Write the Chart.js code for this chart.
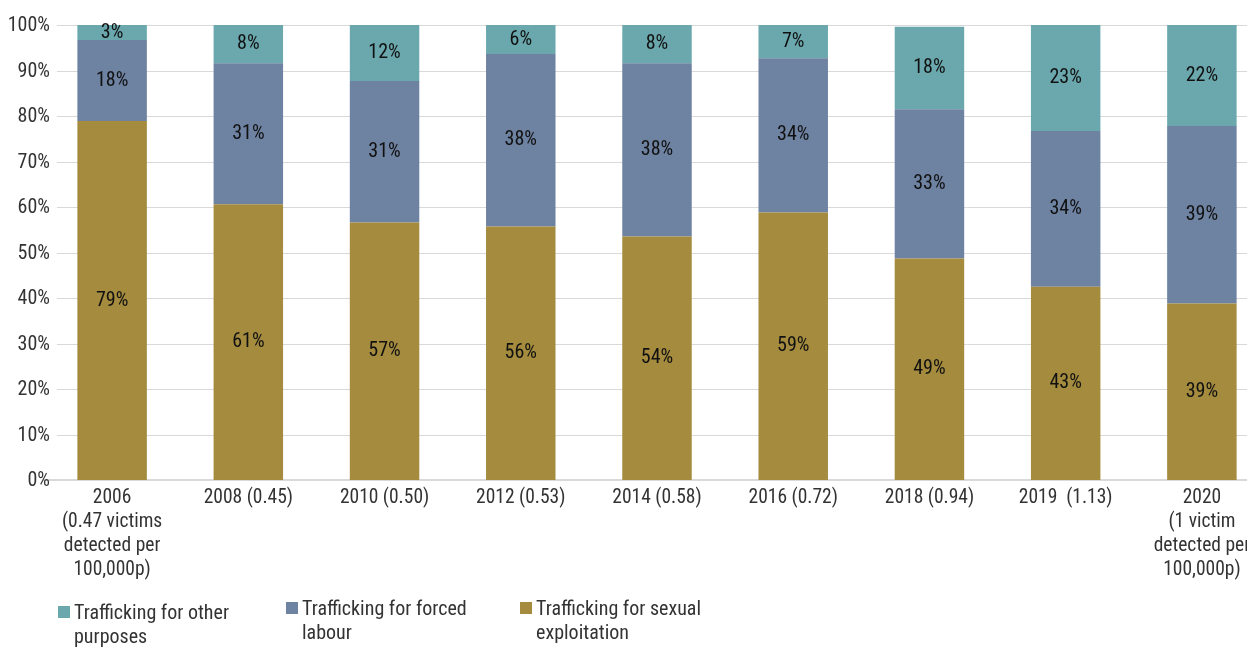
<!DOCTYPE html>
<html>
<head>
<meta charset="utf-8">
<script src="https://cdn.jsdelivr.net/npm/chart.js@4.4.1/dist/chart.umd.min.js"></script>
<style>
  body { margin: 0; background: #fff; overflow: hidden; }
  #wrap { position: relative; width: 1247px; height: 648px; overflow: hidden; }
  #c { position: absolute; left: 0; top: 0; }
  .leg { position: absolute; top: 600px; font: 20px "Roboto Condensed", "Liberation Sans Narrow", Roboto, sans-serif; color: #333; line-height: 24px; }
  .leg span.box { position: absolute; left: 0; top: 6px; width: 12px; height: 12px; }
  .leg div { padding-left: 16px; }
</style>
</head>
<body>
<div id="wrap">
  <canvas id="c" width="1270" height="648" style="width:1270px;height:648px"></canvas>
  <div class="leg" style="left:58px"><span class="box" style="background:#6aa8ae"></span><div>Trafficking for other<br>purposes</div></div>
  <div class="leg" style="left:286px;top:596px"><span class="box" style="background:#6e82a2"></span><div>Trafficking for forced<br>labour</div></div>
  <div class="leg" style="left:520px;top:596px"><span class="box" style="background:#a48b3e"></span><div>Trafficking for sexual<br>exploitation</div></div>
</div>
<script>
var years = [
  ["2006", "(0.47 victims", "detected per", "100,000p)"],
  "2008 (0.45)",
  "2010 (0.50)",
  "2012 (0.53)",
  "2014 (0.58)",
  "2016 (0.72)",
  "2018 (0.94)",
  "2019  (1.13)",
  ["2020", "(1 victim", "detected per", "100,000p)"]
];
var sexual = [78.9, 60.6, 56.6, 55.7, 53.5, 58.8, 48.7, 42.5, 38.8];
var forced = [17.8, 31.0, 31.1, 37.9, 38.1, 33.9, 32.8, 34.2, 39.0];
var other = [3.3, 8.4, 12.3, 6.4, 8.4, 7.3, 18.1, 23.3, 22.2];

var fontFam = '"Roboto Condensed", "Liberation Sans Narrow", Roboto, sans-serif';

// grid lines + y tick labels drawn by hand so the gridlines can start right of the labels
var gridPlugin = {
  id: 'grid',
  beforeDatasetsDraw: function(chart) {
    var c = chart.ctx, y = chart.scales.y, a = chart.chartArea;
    c.save();
    c.strokeStyle = '#d9d9d9';
    c.lineWidth = 1;
    c.font = '20px ' + fontFam;
    c.fillStyle = '#333';
    c.textAlign = 'right';
    c.textBaseline = 'middle';
    y.ticks.forEach(function(t) {
      var py = Math.round(y.getPixelForValue(t.value)) + 0.5;
      if (t.value > 0) {
        c.beginPath();
        c.moveTo(57, py);
        c.lineTo(a.right, py);
        c.stroke();
      }
      c.fillText(t.value + '%', 50, py);
    });
    c.restore();
  }
};

var labelPlugin = {
  id: 'vals',
  afterDatasetsDraw: function(chart) {
    var c = chart.ctx;
    c.save();
    c.font = '20px ' + fontFam;
    c.fillStyle = '#111';
    c.textAlign = 'center';
    c.textBaseline = 'middle';
    chart.data.datasets.forEach(function(ds, i) {
      chart.getDatasetMeta(i).data.forEach(function(el, j) {
        c.fillText(Math.round(ds.data[j]) + '%', el.x, (el.y + el.base) / 2);
      });
    });
    c.restore();
  }
};

var ctx = document.getElementById('c').getContext('2d');
var myChart = new Chart(ctx, {
  type: 'bar',
  data: {
    labels: years,
    datasets: [
      { label: 'Trafficking for sexual exploitation', data: sexual, backgroundColor: '#a48b3e' },
      { label: 'Trafficking for forced labour', data: forced, backgroundColor: '#6e82a2' },
      { label: 'Trafficking for other purposes', data: other, backgroundColor: '#6aa8ae' }
    ]
  },
  options: {
    responsive: false,
    animation: false,
    layout: { padding: { top: 25, bottom: 60, left: 0, right: 0 } },
    datasets: { bar: { barPercentage: 0.51, categoryPercentage: 1 } },
    plugins: { legend: { display: false }, tooltip: { enabled: false } },
    scales: {
      x: {
        stacked: true,
        grid: { display: false, drawTicks: false },
        border: { color: '#d9d9d9', width: 2 },
        ticks: { color: '#333', font: { size: 19.5, family: fontFam, lineHeight: 1.23 }, padding: 6, maxRotation: 0, autoSkip: false }
      },
      y: {
        stacked: true,
        min: 0, max: 100,
        afterFit: function(s) { s.width = 44; },
        grid: { display: false, drawTicks: false },
        border: { display: false },
        ticks: { stepSize: 10, display: false }
      }
    }
  },
  plugins: [gridPlugin, labelPlugin]
});
</script>
</body>
</html>
